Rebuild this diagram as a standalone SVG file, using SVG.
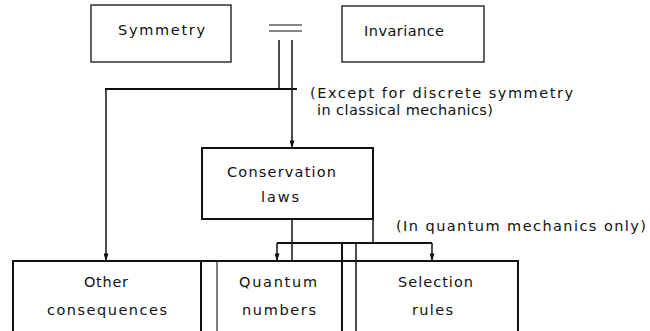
<svg xmlns="http://www.w3.org/2000/svg" width="650" height="331" viewBox="0 0 650 331">
<style>
text{font-family:"DejaVu Sans","Liberation Sans",sans-serif;font-size:14.5px;fill:#111;}
.box{fill:none;stroke:#111;stroke-width:1.3;}
.thick{fill:none;stroke:#111;stroke-width:2;}
.ln{fill:none;stroke:#111;stroke-width:1.5;}
.thin{fill:none;stroke:#111;stroke-width:1.1;}
</style>
<defs>
<marker id="dn" viewBox="0 0 6 9" refX="3" refY="9" markerWidth="5" markerHeight="9" markerUnits="userSpaceOnUse" orient="0">
<path d="M0,0 L6,0 L3,9 Z" fill="#111"/>
</marker>
</defs>
<rect width="650" height="331" fill="#fff"/>

<g id="symmetry">
<rect class="box" x="91" y="5" width="140" height="57"/>
<text x="118" y="35" textLength="87" lengthAdjust="spacing">Symmetry</text>
</g>
<g id="equals">
<line class="thin" x1="269" y1="25" x2="302" y2="25"/>
<line class="thin" x1="269" y1="31" x2="302" y2="31"/>
</g>
<g id="invariance">
<rect class="box" x="342" y="6" width="142" height="56"/>
<text x="364" y="36" textLength="80" lengthAdjust="spacing">Invariance</text>
</g>
<g id="note1">
<text x="310" y="98" textLength="263" lengthAdjust="spacing">(Except for discrete symmetry</text>
<text x="317" y="115" textLength="176" lengthAdjust="spacing">in classical mechanics)</text>
</g>
<g id="conservation">
<rect class="thick" x="202" y="148" width="171" height="71"/>
<text x="227" y="177" textLength="109" lengthAdjust="spacing">Conservation</text>
<text x="261" y="202" textLength="38" lengthAdjust="spacing">laws</text>
</g>
<g id="note2">
<text x="396" y="231" textLength="250" lengthAdjust="spacing">(In quantum mechanics only)</text>
</g>
<g id="other">
<line class="thick" x1="13" y1="261" x2="13" y2="331"/>
<line class="thick" x1="201" y1="261" x2="201" y2="331"/>
<text x="84" y="287" textLength="44" lengthAdjust="spacing">Other</text>
<text x="47" y="315" textLength="120" lengthAdjust="spacing">consequences</text>
</g>
<g id="quantum">
<line class="thin" x1="217" y1="261" x2="217" y2="331"/>
<text x="239" y="287" textLength="78" lengthAdjust="spacing">Quantum</text>
<text x="242" y="315" textLength="74" lengthAdjust="spacing">numbers</text>
</g>
<g id="selection">
<line class="thick" x1="518" y1="261" x2="518" y2="331"/>
<text x="398" y="287" textLength="75" lengthAdjust="spacing">Selection</text>
<text x="412" y="315" textLength="41" lengthAdjust="spacing">rules</text>
</g>
<g id="connectors">
<line class="ln" x1="279" y1="40" x2="279" y2="89"/>
<line class="ln" x1="292" y1="40" x2="292" y2="148" marker-end="url(#dn)"/>
<line class="thick" x1="105" y1="89" x2="297" y2="89"/>
<line class="ln" x1="106" y1="89" x2="106" y2="261" marker-end="url(#dn)"/>
<line class="ln" x1="292" y1="219" x2="292" y2="261"/>
<line class="ln" x1="373" y1="219" x2="373" y2="243"/>
<line class="thick" x1="277" y1="243" x2="432" y2="243"/>
<line class="ln" x1="277" y1="243" x2="277" y2="261" marker-end="url(#dn)"/>
<line class="ln" x1="432" y1="243" x2="432" y2="261" marker-end="url(#dn)"/>
<line class="thick" x1="12" y1="261" x2="519" y2="261"/>
<line class="thick" x1="342" y1="243" x2="342" y2="331"/>
<line class="ln" x1="356" y1="243" x2="356" y2="331"/>
</g>
</svg>
